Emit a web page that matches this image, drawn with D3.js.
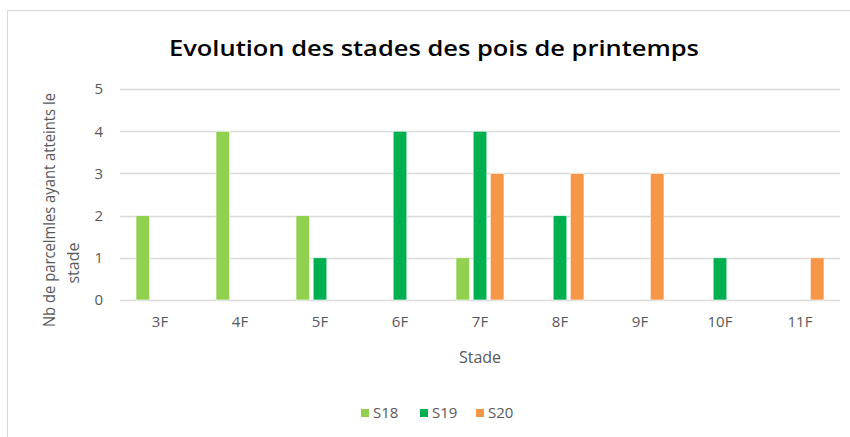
<!DOCTYPE html>
<html>
<head>
<meta charset="utf-8">
<script src="https://cdn.jsdelivr.net/npm/d3@7"></script>
<style>
  body { margin: 0; background: #fff; }
  text { font-family: "Open Sans", "Noto Sans", sans-serif; }
</style>
</head>
<body>
<svg id="chart"></svg>
<script>
const stades = ["3F", "4F", "5F", "6F", "7F", "8F", "9F", "10F", "11F"];
const seriesNames = ["S18", "S19", "S20"];
const s18 = [2, 4, 2, 0, 1, 0, 0, 0, 0];
const s19 = [0, 0, 1, 4, 4, 2, 0, 1, 0];
const s20 = [0, 0, 0, 0, 3, 3, 3, 0, 1];
const yTicks = [0, 1, 2, 3, 4, 5];
const colors = ["#92D050", "#00B050", "#F79646"];

const width = 850, height = 437;
const margin = {top: 89, right: 10, bottom: 137, left: 120};

const svg = d3.select("#chart")
  .attr("width", width)
  .attr("height", height);

// cadre du graphique
svg.append("rect")
  .attr("x", 7.5).attr("y", 10.5)
  .attr("width", 860).attr("height", 440)
  .attr("fill", "#fff")
  .attr("stroke", "#D9D9D9");

const x0 = d3.scaleBand()
  .domain(stades)
  .range([margin.left, width - margin.right])
  .paddingInner(0.4)
  .paddingOuter(0.2);

const x1 = d3.scaleBand()
  .domain(seriesNames)
  .range([0, x0.bandwidth()])
  .paddingInner(0.2);

const y = d3.scaleLinear()
  .domain([0, 5])
  .range([height - margin.bottom, margin.top]);

// grille
svg.append("g")
  .selectAll("line")
  .data(yTicks)
  .join("line")
  .attr("x1", margin.left)
  .attr("x2", width - margin.right)
  .attr("y1", d => Math.round(y(d)) + 0.5)
  .attr("y2", d => Math.round(y(d)) + 0.5)
  .attr("stroke", "#D9D9D9")
  .attr("stroke-width", 1.3);

// axe y
const yAxis = svg.append("g")
  .attr("transform", `translate(${margin.left},0)`)
  .call(d3.axisLeft(y).tickValues(yTicks).tickFormat(d3.format("d")).tickSize(0).tickPadding(17));
yAxis.select(".domain").remove();
yAxis.selectAll("text")
  .attr("fill", "#595959")
  .style("font-size", "15px")
  .style("font-family", "'Open Sans', sans-serif");

// axe x
const xAxis = svg.append("g")
  .attr("transform", `translate(0,${height - margin.bottom})`)
  .call(d3.axisBottom(x0).tickSize(0).tickPadding(16));
xAxis.select(".domain").remove();
xAxis.selectAll("text")
  .attr("fill", "#595959")
  .style("font-size", "15px")
  .style("font-family", "'Open Sans', sans-serif");

// barres
const data = [s18, s19, s20];
const rows = stades.flatMap((s, i) =>
  seriesNames.map((name, k) => ({stade: s, serie: name, k, value: data[k][i]})));

svg.append("g")
  .selectAll("rect")
  .data(rows.filter(d => d.value > 0))
  .join("rect")
  .attr("x", d => x0(d.stade) + x1(d.serie))
  .attr("y", d => y(d.value))
  .attr("width", x1.bandwidth())
  .attr("height", d => y(0) - y(d.value))
  .attr("fill", d => colors[d.k])
  .attr("stroke", "#fff")
  .attr("stroke-width", 0.6);

// titre
svg.append("text")
  .attr("x", 434)
  .attr("y", 56)
  .attr("text-anchor", "middle")
  .attr("fill", "#000")
  .style("font-size", "22px")
  .style("font-weight", "600")
  .attr("textLength", 530)
  .attr("lengthAdjust", "spacingAndGlyphs")
  .text("Evolution des stades des pois de printemps");

// titre axe x
svg.append("text")
  .attr("x", 480)
  .attr("y", 363)
  .attr("text-anchor", "middle")
  .attr("fill", "#595959")
  .style("font-size", "16px")
  .text("Stade");

// titre axe y (deux lignes)
svg.append("text")
  .attr("transform", "translate(55,210) rotate(-90)")
  .attr("text-anchor", "middle")
  .attr("fill", "#595959")
  .style("font-size", "16px")
  .attr("textLength", 234)
  .attr("lengthAdjust", "spacingAndGlyphs")
  .text("Nb de parcelmles ayant atteints le");
svg.append("text")
  .attr("transform", "translate(79,263) rotate(-90)")
  .attr("text-anchor", "middle")
  .attr("fill", "#595959")
  .style("font-size", "16px")
  .text("stade");

// légende
const legendX = [361, 420, 476];
const legend = svg.append("g")
  .selectAll("g")
  .data(seriesNames)
  .join("g")
  .attr("transform", (d, i) => `translate(${legendX[i]},409)`);
legend.append("rect")
  .attr("width", 8).attr("height", 8)
  .attr("fill", (d, i) => colors[i]);
legend.append("text")
  .attr("x", 12)
  .attr("y", 9)
  .attr("fill", "#595959")
  .style("font-size", "15px")
  .text(d => d);
</script>
</body>
</html>
